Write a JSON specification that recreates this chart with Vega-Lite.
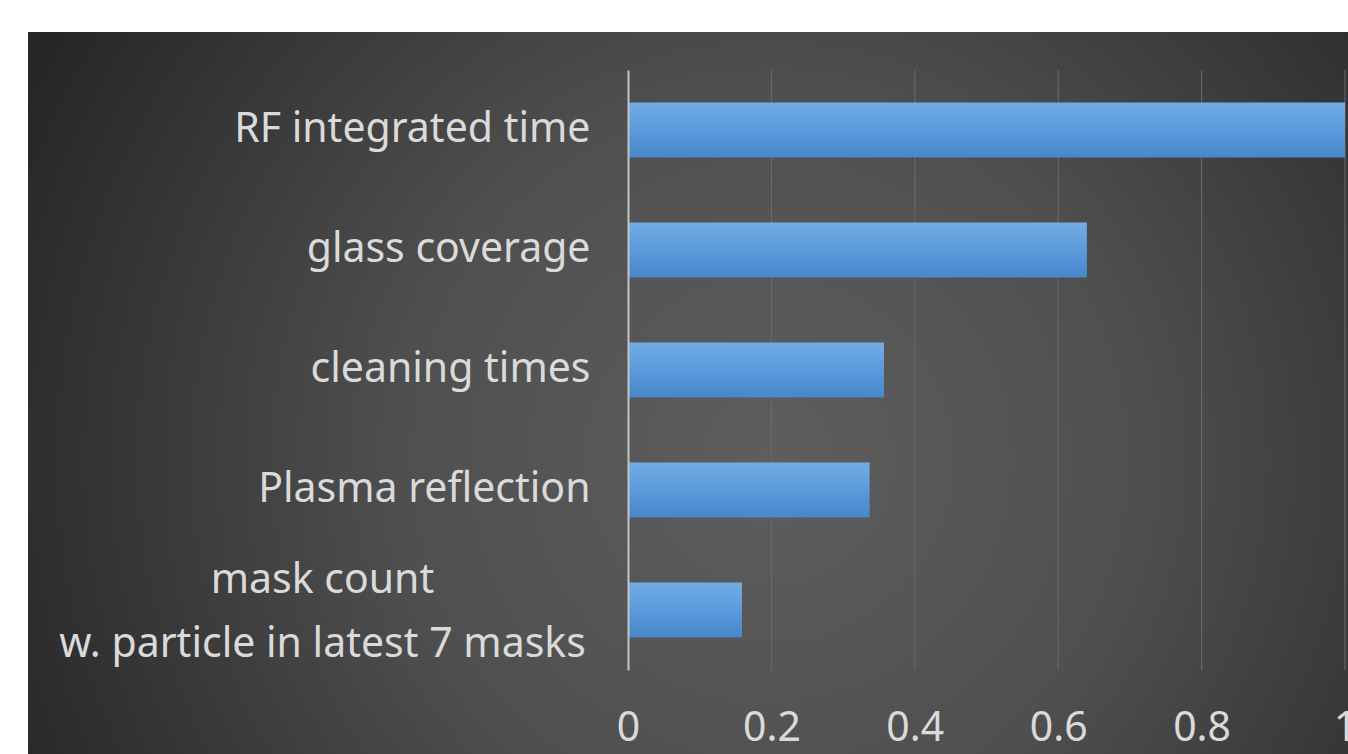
{
  "$schema": "https://vega.github.io/schema/vega-lite/v6.json",
  "autosize": {"type": "none"},
  "width": 717,
  "height": 600,
  "padding": {"left": 628, "top": 70, "right": 3, "bottom": 84},
  "background": "#ffffff",
  "config": {
    "view": {"stroke": null},
    "font": "Noto Sans"
  },
  "data": {
    "values": [
      {"feature": "RF integrated time", "importance": 1.0},
      {"feature": "glass coverage", "importance": 0.640},
      {"feature": "cleaning times", "importance": 0.357},
      {"feature": "Plasma reflection", "importance": 0.337},
      {"feature": "mask count\nw. particle in latest 7 masks", "importance": 0.159}
    ]
  },
  "layer": [
    {
      "mark": {
        "type": "rect",
        "clip": false,
        "color": {
          "gradient": "radial",
          "x1": 0.56, "y1": 0.55, "r1": 0,
          "x2": 0.56, "y2": 0.55, "r2": 0.62,
          "stops": [
            {"offset": 0, "color": "#5e5e5e"},
            {"offset": 0.45, "color": "#4f4f4f"},
            {"offset": 1, "color": "#272727"}
          ]
        }
      },
      "encoding": {
        "x": {"datum": -0.8368, "type": "quantitative"},
        "x2": {"datum": 1.01},
        "y": {"datum": 1.0633, "type": "quantitative", "scale": {"domain": [0, 1]}, "axis": null},
        "y2": {"datum": -0.14}
      }
    },
    {
      "data": {"values": [{"tick": 0.2}, {"tick": 0.4}, {"tick": 0.6}, {"tick": 0.8}, {"tick": 1.0}]},
      "mark": {"type": "rule", "color": "#6c6c6c", "strokeWidth": 1},
      "encoding": {
        "x": {"field": "tick", "type": "quantitative"}
      }
    },
    {
      "mark": {
        "type": "bar",
        "color": {
          "gradient": "linear",
          "x1": 0, "y1": 0, "x2": 0, "y2": 1,
          "stops": [
            {"offset": 0, "color": "#73ace3"},
            {"offset": 0.5, "color": "#5a9bdc"},
            {"offset": 1, "color": "#4787ca"}
          ]
        }
      },
      "encoding": {
        "y": {
          "field": "feature",
          "type": "nominal",
          "sort": null,
          "scale": {"paddingInner": 0.542, "paddingOuter": 0.271},
          "axis": {
            "title": null,
            "zindex": 1,
            "ticks": false,
            "domain": true,
            "domainColor": "#c4c4c4",
            "domainWidth": 2,
            "labelFont": "Noto Sans",
            "labelFontSize": 41,
            "labelColor": "#dadada",
            "labelLimit": 0,
            "labelLineHeight": 64,
            "labelExpr": "split(datum.label, '\\n')",
            "labelAlign": {"condition": {"test": "indexof(datum.value, 'mask count') === 0", "value": "center"}, "value": "right"},
            "labelPadding": {"condition": {"test": "indexof(datum.value, 'mask count') === 0", "value": 306}, "value": 38},
            "labelOffset": {"condition": {"test": "indexof(datum.value, 'mask count') === 0", "value": -29}, "value": 0}
          }
        },
        "x": {
          "field": "importance",
          "type": "quantitative",
          "scale": {"domain": [0, 1], "nice": false, "zero": true},
          "axis": {
            "title": null,
            "zindex": 1,
            "values": [0, 0.2, 0.4, 0.6, 0.8, 1],
            "format": ".1~f",
            "ticks": false,
            "domain": false,
            "grid": false,
            "labelFont": "Noto Sans",
            "labelFontSize": 41,
            "labelColor": "#dadada",
            "labelPadding": 38,
            "labelFlush": false,
            "labelOverlap": false
          }
        }
      }
    }
  ],
  "resolve": {"scale": {"y": "independent"}}
}
